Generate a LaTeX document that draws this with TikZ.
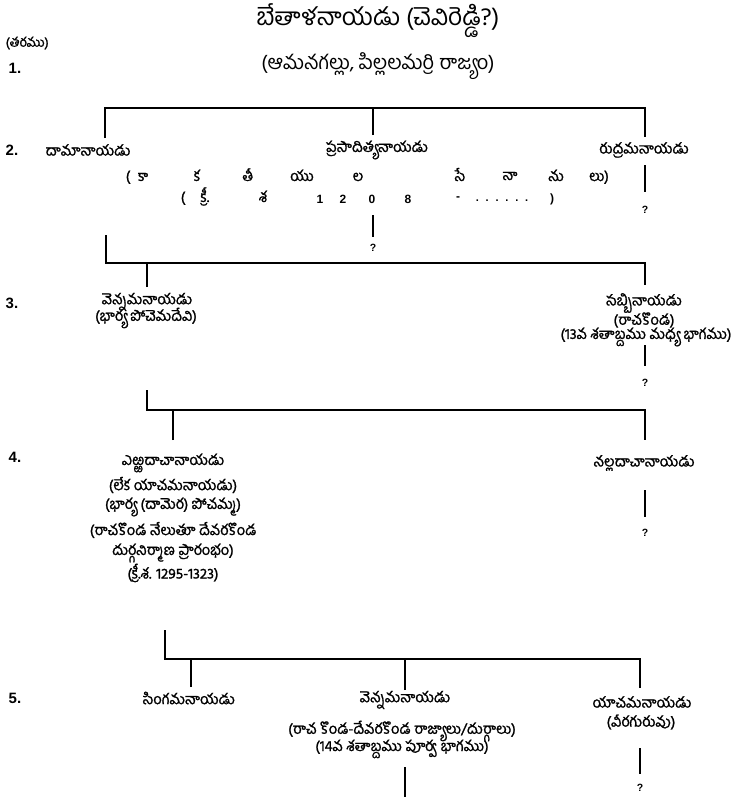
\documentclass[tikz,border=0pt]{standalone}
\usepackage{fontspec}
\setmainfont[Script=Telugu,AutoFakeBold=1.3]{Hind Guntur}
\newfontfamily\latinfont{Liberation Sans}
\usetikzlibrary{positioning}

\begin{document}
\begin{tikzpicture}[x=1pt,y=-1pt,line width=1.4pt,
    title node/.style={font=\fontsize{24.5}{28}\selectfont,inner sep=0pt},
    sub node/.style={font=\fontsize{20}{24}\selectfont,inner sep=0pt},
    main node/.style={font=\bfseries\fontsize{14.7}{17}\selectfont,inner sep=0pt},
    spread node/.style={main node,text height=8pt,text depth=2pt},
    num node/.style={font=\latinfont\bfseries\fontsize{12}{14}\selectfont,inner sep=0pt},
    gen node/.style={font=\latinfont\bfseries\fontsize{15}{17}\selectfont,anchor=west,inner sep=0pt},
    q node/.style={font=\latinfont\bfseries\fontsize{10.5}{12}\selectfont,inner sep=0pt,
                   text height=7.5pt,text depth=0pt}]

  \useasboundingbox (0,0) rectangle (739,797);

  % heading
  \node[title node] (betala) at (378,21) {బేతాళనాయడు (చెవిరెడ్డి?)};
  \node[sub node] (rajyam) at (378,66) {(ఆమనగల్లు, పిల్లలమర్రి రాజ్యం)};

  % generation numbers
  \node[main node,font=\bfseries\fontsize{13}{15}\selectfont,anchor=west] (tharamu) at (5,43) {(తరము)};
  \node[gen node] (t1) at (8,68) {1.};
  \node[gen node] (t2) at (5,150) {2.};
  \node[gen node] (t3) at (5,303) {3.};
  \node[gen node] (t4) at (8,457) {4.};
  \node[gen node] (t5) at (8,698) {5.};

  % generation 2
  \node[main node] (dama) at (88,150) {దామానాయడు};
  \node[main node] (prasa) at (377,150) {ప్రసాదిత్యనాయడు};
  \node[main node] (rudra) at (644,150) {రుద్రమనాయడు};

  \node[spread node] (k1) at (128,178) {(};
  \node[spread node] (k2) at (143,178) {కా};
  \node[spread node] (k3) at (197,178) {క};
  \node[spread node] (k4) at (248,178) {తీ};
  \node[spread node] (k5) at (302,178) {యు};
  \node[spread node] (k6) at (358,178) {ల};
  \node[spread node] (k7) at (460,178) {సే};
  \node[spread node] (k8) at (510,177) {నా};
  \node[spread node] (k9) at (556,178) {ను};
  \node[spread node] (k10) at (599,178) {లు)};

  \node[spread node] (d1) at (183,199) {(};
  \node[spread node] (d2) at (205,199) {క్రీ.};
  \node[spread node] (d3) at (263,199) {శ};
  \node[num node] (d4) at (320,199) {1};
  \node[num node] (d5) at (343,199) {2};
  \node[num node] (d6) at (372,199) {0};
  \node[num node] (d7) at (408,199) {8};
  \node[num node] (d8) at (458,199) {-};
  \node[num node,font=\latinfont\bfseries\fontsize{11}{12}\selectfont] (d9) at (502,201)
    {.\hspace{6.8pt}.\hspace{6.8pt}.\hspace{6.8pt}.\hspace{6.8pt}.\hspace{6.8pt}.};
  \node[num node] (d10) at (552,199) {)};

  \node[q node] (prasaq) at (373,248) {?};
  \node[q node] (rudraq) at (645,210) {?};

  % generation 3
  \node[main node] (venn3) at (147,302) {వెన్నమనాయడు};
  \node[main node] (venn3w) at (146,318) {(భార్య పోచెమదేవి)};
  \node[main node] (sabbi) at (644,303) {సబ్బినాయడు};
  \node[main node] (sabbir) at (644,320) {(రాచకొండ)};
  \node[main node] (sabbic) at (646,337) {(13వ శతాబ్దము మధ్య భాగము)};
  \node[q node] (sabbiq) at (645,383) {?};

  % generation 4
  \node[main node] (ella) at (173,463) {ఎఱ్ఱదాచానాయడు};
  \node[main node] (ella2) at (173,485) {(లేక యాచమనాయడు)};
  \node[main node] (ella3) at (173,507) {(భార్య (దామెర) పోచమ్మ)};
  \node[main node] (ella4) at (173,530) {(రాచకొండ నేలుతూ దేవరకొండ};
  \node[main node] (ella5) at (173,553) {దుర్గనిర్మాణ ప్రారంభం)};
  \node[main node] (ella6) at (173,573) {(క్రీ.శ. 1295-1323)};
  \node[main node] (nalla) at (644,463) {నల్లదాచానాయడు};
  \node[q node] (nallaq) at (645,533) {?};

  % generation 5
  \node[main node] (singa) at (189,698) {సింగమనాయడు};
  \node[main node] (venn5) at (405,700) {వెన్నమనాయడు};
  \node[main node] (venn5r) at (402,731) {(రాచ కొండ-దేవరకొండ రాజ్యాలు/దుర్గాలు)};
  \node[main node] (venn5c) at (402,749) {(14వ శతాబ్దము పూర్వ భాగము)};
  \node[main node] (yacha) at (642,702) {యాచమనాయడు};
  \node[main node] (yachav) at (641,722) {(వీరగురువు)};
  \node[q node] (yachaq) at (640,788) {?};

  % bars
  \coordinate (g2l) at (105,108);
  \coordinate (g2r) at (645,108);
  \coordinate (dama-in) at (105,138);
  \coordinate (prasa-in) at (373,135);
  \coordinate (rudra-in) at (645,137);
  \draw (dama-in) -- (g2l) -- (g2r) -- (rudra-in);
  \draw (prasa-in) -- (prasa-in |- g2l);

  \coordinate (dama-out) at (106,235);
  \coordinate (g3r) at (645,263);
  \coordinate (venn3-in) at (147,287);
  \coordinate (sabbi-in) at (645,285);
  \draw (dama-out) |- (g3r) -- (sabbi-in);
  \draw (venn3-in) -- (venn3-in |- g3r);

  \coordinate (venn3-out) at (147,390);
  \coordinate (g4r) at (645,410);
  \coordinate (ella-in) at (173,440);
  \coordinate (nalla-in) at (645,440);
  \draw (venn3-out) |- (g4r) -- (nalla-in);
  \draw (ella-in) -- (ella-in |- g4r);

  \coordinate (ella-out) at (165,630);
  \coordinate (g5r) at (640,659);
  \coordinate (singa-in) at (191,687);
  \coordinate (venn5-in) at (405,690);
  \coordinate (yacha-in) at (640,688);
  \draw (ella-out) |- (g5r) -- (yacha-in);
  \draw (singa-in) -- (singa-in |- g5r);
  \draw (venn5-in) -- (venn5-in |- g5r);

  % lines to the unknown heirs
  \coordinate (prasa-out) at (373,215);
  \coordinate (rudra-out) at (645,165);
  \coordinate (sabbi-out) at (645,345);
  \coordinate (nalla-out) at (645,490);
  \coordinate (yacha-out) at (640,748);
  \coordinate (venn5-out) at (405,767);
  \coordinate (venn5-end) at (405,797);
  \draw[shorten >=6.5pt] (prasa-out) -- (prasaq);
  \draw[shorten >=14pt] (rudra-out) -- (rudraq);
  \draw[shorten >=12.5pt] (sabbi-out) -- (sabbiq);
  \draw[shorten >=11.5pt] (nalla-out) -- (nallaq);
  \draw[shorten >=9.5pt] (yacha-out) -- (yachaq);
  \draw (venn5-out) -- (venn5-end);
\end{tikzpicture}
\end{document}
